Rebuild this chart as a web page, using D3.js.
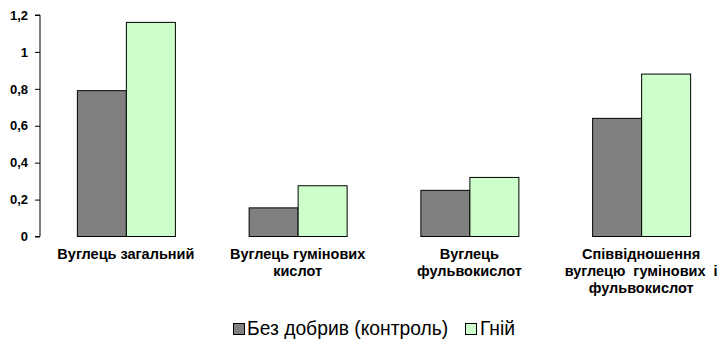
<!DOCTYPE html>
<meta charset="utf-8">
<script src="https://d3js.org/d3.v7.min.js"></script>
<style>
  body { margin: 0; background: #fff; }
  text { font-family: "Liberation Sans", Arial, sans-serif; }
</style>
<div id="chart"></div>
<script>
// data
const categories = ["c1", "c2", "c3", "c4"];
const categoryLines = [
  ["Вуглець загальний"],
  ["Вуглець гумінових", "кислот"],
  ["Вуглець", "фульвокислот"],
  ["Співвідношення", "вуглецю  гумінових  і", "фульвокислот"]
];
const seriesNames = ["Без добрив (контроль)", "Гній"];
const controlValues = [0.79, 0.155, 0.25, 0.64];
const manureValues = [1.16, 0.275, 0.32, 0.88];
const yTicks = [0, 0.2, 0.4, 0.6, 0.8, 1, 1.2];
const colors = ["#808080", "#ccffcc"];

const width = 727, height = 343;
const margin = {top: 15, right: 0, bottom: 107, left: 40};

const svg = d3.select("#chart").append("svg")
    .attr("width", width)
    .attr("height", height);

const x = d3.scaleBand()
    .domain(categories)
    .range([margin.left, width - margin.right])
    .paddingInner(0)
    .paddingOuter(0);

const barW = 49;
const xs = d3.scaleBand()
    .domain([0, 1])
    .range([x.bandwidth() / 2 - barW, x.bandwidth() / 2 + barW]);

const y = d3.scaleLinear()
    .domain([0, 1.2])
    .range([height - margin.bottom + 0.5, margin.top]);

// y axis
const yAxis = svg.append("g")
    .attr("transform", `translate(${margin.left},0)`)
    .call(d3.axisLeft(y).tickValues(yTicks).tickSize(5).tickPadding(7)
        .tickFormat(d => d3.format("")(d).replace(".", ",")));
yAxis.selectAll("text")
    .style("font-size", "13px")
    .style("font-weight", "bold")
    .attr("fill", "#000");
yAxis.selectAll("line, path").attr("stroke", "#000");
yAxis.select(".domain").attr("d", `M-5,${y(1.2)}H0V${y(0)}H-5`);

// bars
const series = [controlValues, manureValues];
series.forEach((vals, si) => {
  svg.append("g").selectAll("rect")
    .data(categories)
    .join("rect")
    .attr("x", (c) => x(c) + xs(si) + 0.5)
    .attr("y", (c, i) => y(vals[i]))
    .attr("width", xs.bandwidth())
    .attr("height", (c, i) => y(0) - y(vals[i]))
    .attr("fill", colors[si])
    .attr("stroke", "#000")
    .attr("stroke-width", 1);
});

// category labels
categories.forEach((c, i) => {
  const t = svg.append("text")
    .attr("x", x(c) + x.bandwidth() / 2)
    .attr("y", 259)
    .attr("text-anchor", "middle")
    .style("font-size", "14.5px")
    .style("font-weight", "bold")
    .style("white-space", "pre")
    .attr("fill", "#000");
  categoryLines[i].forEach((line, li) => {
    t.append("tspan")
      .attr("x", x(c) + x.bandwidth() / 2)
      .attr("dy", li === 0 ? 0 : 17)
      .text(line);
  });
});

// legend
const legend = svg.append("g").attr("transform", "translate(233,323)");
legend.append("rect").attr("x", 0.5).attr("y", 0.5).attr("width", 11).attr("height", 11)
  .attr("fill", colors[0]).attr("stroke", "#000");
legend.append("text").attr("x", 14).attr("y", 12).style("font-size", "19.3px")
  .text(seriesNames[0]);
legend.append("rect").attr("x", 232.5).attr("y", 0.5).attr("width", 11).attr("height", 11)
  .attr("fill", colors[1]).attr("stroke", "#000");
legend.append("text").attr("x", 247).attr("y", 12).style("font-size", "19.3px")
  .text(seriesNames[1]);
</script>
